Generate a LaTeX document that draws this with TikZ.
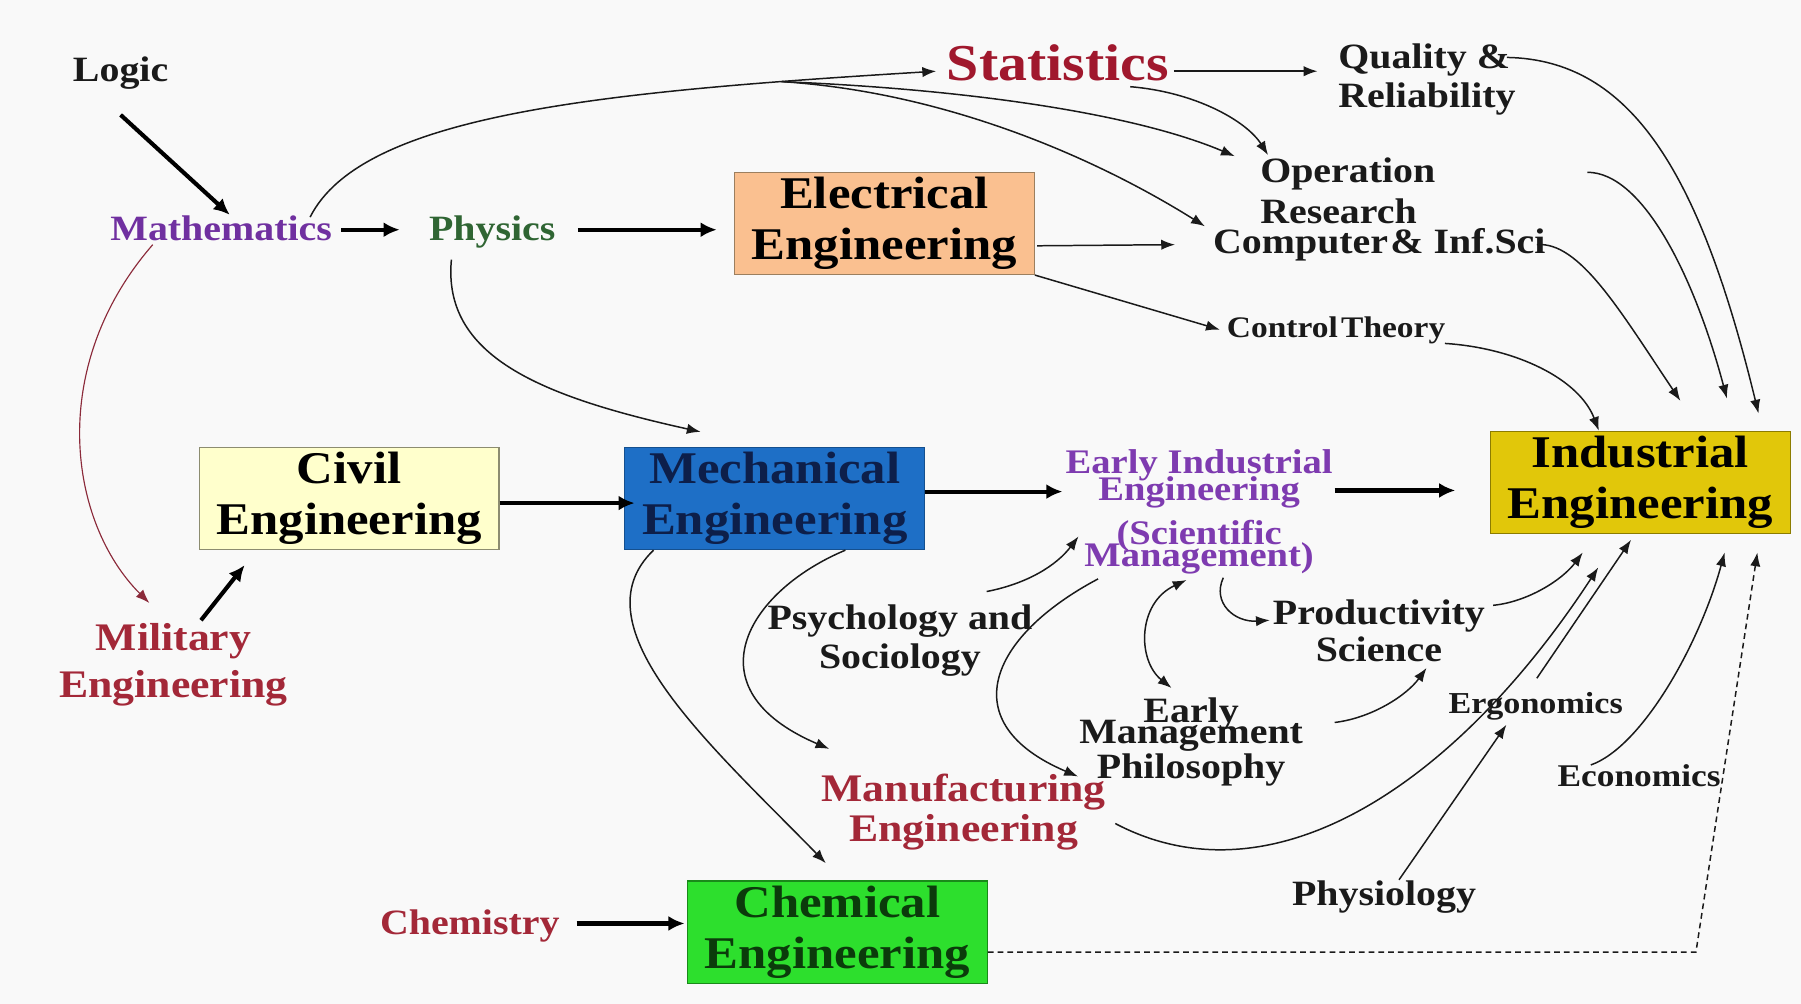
\documentclass[tikz,border=0pt]{standalone}
\usepackage{fontspec}
\setmainfont{Liberation Serif}[FakeStretch=1.12]
\usetikzlibrary{arrows.meta}

\definecolor{bgcol}{HTML}{F9F9F9}
\definecolor{ink}{HTML}{1A1A1A}
\definecolor{mathpurple}{HTML}{7030A0}
\definecolor{eiepurple}{HTML}{7E3BB0}
\definecolor{physgreen}{HTML}{2F6533}
\definecolor{statred}{HTML}{A0182D}
\definecolor{darkred}{HTML}{A32838}
\definecolor{milline}{HTML}{8B2A3A}
\definecolor{elecfill}{HTML}{FAC090}
\definecolor{elecdraw}{HTML}{9C7F5F}
\definecolor{civilfill}{HTML}{FFFFCC}
\definecolor{civildraw}{HTML}{8C8C70}
\definecolor{mechfill}{HTML}{1E6FC6}
\definecolor{mechdraw}{HTML}{15508F}
\definecolor{mechtext}{HTML}{0D1F4A}
\definecolor{iefill}{HTML}{E1C70A}
\definecolor{iedraw}{HTML}{8C7C00}
\definecolor{chemfill}{HTML}{2DDF2D}
\definecolor{chemdraw}{HTML}{1A8A1A}
\definecolor{chemtext}{HTML}{0B3B0B}

% bold label font: size, baseline skip (lines may overlap)
\newcommand{\labfont}[2]{\lineskiplimit=-100pt\bfseries\fontsize{#1}{#2}\selectfont}

% multi-line labels are placed by the baseline of their last line
\tikzset{
  lbl/.style={inner sep=0pt, anchor=base, align=center, text=ink, font=\labfont{31}{34}},
  box/.style={draw, line width=1pt, minimum width=261pt, minimum height=89pt,
              inner sep=0pt, align=center, font=\labfont{39.5}{44}},
  thinarrow/.style={draw=ink, line width=1.3pt, -{Latex[length=12pt,width=9pt]}},
  thickarrow/.style={draw=black, line width=3.6pt, -{Latex[length=14pt,width=13pt]}},
}

\begin{document}
\begin{tikzpicture}[x=1pt, y=-1pt]
\useasboundingbox (0,0) rectangle (1568,874);
\fill[bgcol] (0,0) rectangle (1568,874);

% ---------- boxes ----------
\node[box, fill=elecfill, draw=elecdraw] (elec) at (770,194.5) {Electrical\\Engineering};
\node[box, fill=civilfill, draw=civildraw] (civil) at (304,434) {Civil\\Engineering};
\node[box, fill=mechfill, draw=mechdraw, text=mechtext] (mech) at (674.5,434) {Mechanical\\Engineering};
\node[box, fill=iefill, draw=iedraw] (ie) at (1428,420) {Industrial\\Engineering};
\node[box, fill=chemfill, draw=chemdraw, text=chemtext] (chem) at (729,811.5) {Chemical\\Engineering};

% ---------- text labels ----------
\node[lbl] (logic) at (105,71) {Logic};
\node[lbl, text=mathpurple] (math) at (192.5,209) {Mathematics};
\node[lbl, text=physgreen] (phys) at (428.5,209) {Physics};
\node[lbl, text=statred, font=\labfont{45}{48}] (stat) at (921,70) {Statistics};
\node[lbl, anchor=base west, align=left] (qual) at (1165,93.5) {Quality \&\\Reliability};
\node[lbl, anchor=base west, align=left, font=\labfont{31}{35.5}] (opres) at (1097,194.5) {Operation\\Research};
\node[lbl, anchor=base west] (comp) at (1056,221) {Computer\kern2pt\& Inf.Sci};
\node[lbl, anchor=base west, font=\labfont{26}{28}] (ctrl) at (1068,294) {Control\kern3pt Theory};
\node[lbl, text=eiepurple, font=\labfont{30}{24}] (eie) at (1044,493)
  {Early Industrial\\Engineering\\[14pt](Scientific\\[-5pt]Management)};
\node[lbl] (psych) at (783.5,582) {Psychology and\\Sociology};
\node[lbl, font=\labfont{31}{32}] (prod) at (1200.5,576) {Productivity\\Science};
\node[lbl, font=\labfont{31}{18}] (emp) at (1037,678) {Early\\Management\\[13pt]Philosophy};
\node[lbl, text=darkred, font=\labfont{34}{41}] (mil) at (151,607) {Military\\Engineering};
\node[lbl, text=darkred, font=\labfont{34}{35}] (manu) at (839,733) {Manufacturing\\Engineering};
\node[lbl, text=darkred] (chemistry) at (409,814) {Chemistry};
\node[lbl, font=\labfont{26.5}{28}] (ergo) at (1337,621) {Ergonomics};
\node[lbl] (physio) at (1205,788) {Physiology};
\node[lbl, font=\labfont{27.5}{30}] (econ) at (1427,685) {Economics};

% ---------- heavy arrows ----------
\draw[thickarrow] ([yshift=-29pt]logic.base) -- ([xshift=7.5pt,yshift=22pt]math.base);
\draw[thickarrow] ([xshift=104.5pt,yshift=9pt]math.base) -- ([xshift=-80.5pt,yshift=9pt]phys.base);
\draw[thickarrow] ([xshift=74.5pt,yshift=9pt]phys.base) -- ([xshift=-15pt,yshift=-5.5pt]elec.west);
\draw[thickarrow] ([xshift=24pt,yshift=67pt]mil.base) -- ([xshift=-91pt,yshift=-13pt]civil.south);
\draw[thickarrow] ([yshift=-4pt]civil.east) -- ([xshift=9pt,yshift=-4pt]mech.west);
\draw[thickarrow] ([yshift=6pt]mech.east) -- ([xshift=-119pt,yshift=65pt]eie.base);
\draw[thickarrow] ([xshift=118pt,yshift=66pt]eie.base) -- ([xshift=-30pt,yshift=-7pt]ie.west);
\draw[thickarrow] ([xshift=93pt,yshift=10pt]chemistry.base) -- ([xshift=-2pt,yshift=7.5pt]chem.west);

% ---------- upper fan: mathematics, statistics, electrical ----------
\draw[thinarrow] ([xshift=77.5pt,yshift=20pt]math.base) .. controls (315,100) and (520,80) ..
  coordinate[pos=0.84] (split) ([xshift=-106pt,yshift=8pt]stat.base);
\draw[thinarrow] (split) .. controls (850,78) and (990,100) .. ([xshift=-22pt,yshift=58.5pt]opres.base west);
\draw[thinarrow] (split) .. controls (820,80) and (950,135) .. ([xshift=-7pt,yshift=24pt]comp.base west);
\draw[thinarrow] ([xshift=63pt,yshift=-5.5pt]stat.base) .. controls (1040,80) and (1085,105) ..
  ([xshift=7pt,yshift=59.5pt]opres.base west);
\draw[thinarrow] ([xshift=101pt,yshift=8pt]stat.base) -- ([xshift=-18pt,yshift=31.5pt]qual.base west);
\draw[thinarrow] ([xshift=2pt,yshift=-19.5pt]elec.east) -- ([xshift=-33pt,yshift=8pt]comp.base west);
\draw[thinarrow] (elec.south east) -- ([xshift=-6pt,yshift=7pt]ctrl.base west);

% ---------- into Industrial Engineering from above ----------
\draw[thinarrow] ([xshift=147pt,yshift=43.5pt]qual.base west) .. controls (1420,52) and (1480,150) ..
  ([xshift=103pt,yshift=15pt]ie.north);
\draw[thinarrow] ([xshift=285pt,yshift=44.5pt]opres.base west) .. controls (1430,150) and (1475,240) ..
  ([xshift=75.5pt,yshift=28pt]ie.north);
\draw[thinarrow] ([xshift=282pt,yshift=8pt]comp.base west) .. controls (1375,210) and (1410,270) ..
  ([xshift=35pt,yshift=26pt]ie.north);
\draw[thinarrow] ([xshift=190pt,yshift=-5pt]ctrl.base west) .. controls (1320,303) and (1375,330) ..
  ([xshift=-36pt]ie.north);

% ---------- left side ----------
\draw[thinarrow, draw=milline, line width=1pt] ([xshift=-59.5pt,yshift=-4pt]math.base)
  .. controls (40,320) and (60,455) .. ([xshift=-21pt,yshift=82pt]mil.base);
\draw[thinarrow] ([xshift=-35.5pt,yshift=-17pt]phys.base) .. controls (385,310) and (470,345) ..
  ([xshift=-64.5pt,yshift=13pt]mech.north);
\draw[thinarrow] ([xshift=-105.5pt]mech.south) .. controls (500,545) and (620,650) ..
  ([xshift=-10pt,yshift=15pt]chem.north);
\draw[thinarrow] ([xshift=61.5pt]mech.south) .. controls (650,515) and (600,600) ..
  ([xshift=-117pt,yshift=81pt]manu.base);

% ---------- around scientific management ----------
\draw[thinarrow] ([xshift=75.5pt,yshift=67pt]psych.base) .. controls (895,508) and (920,492) ..
  ([xshift=-105pt,yshift=26pt]eie.base);
\draw[thinarrow] ([xshift=-88pt,yshift=-11pt]eie.base) .. controls (860,555) and (830,630) ..
  ([xshift=-98.5pt,yshift=2pt]emp.base);
\draw[thinarrow, {Latex[length=12pt,width=9pt]}-{Latex[length=12pt,width=9pt]}]
  ([xshift=-11pt,yshift=-12pt]eie.base) .. controls (990,525) and (990,575) ..
  ([xshift=-17pt,yshift=79pt]emp.base);
\draw[thinarrow] ([xshift=21pt,yshift=-10pt]eie.base) .. controls (1055,525) and (1075,542) ..
  ([xshift=-95pt,yshift=36pt]prod.base);
\draw[thinarrow] ([xshift=125pt,yshift=49pt]emp.base) .. controls (1195,625) and (1225,605) ..
  ([xshift=41.5pt,yshift=-5.5pt]prod.base);

% ---------- into Industrial Engineering from below ----------
\draw[thinarrow] ([xshift=99.5pt,yshift=49pt]prod.base) .. controls (1330,524) and (1360,505) ..
  ([xshift=-50pt,yshift=-16pt]ie.south);
\draw[thinarrow] ([xshift=132pt,yshift=16pt]manu.base) .. controls (1110,790) and (1270,680) ..
  ([xshift=-36.5pt,yshift=-29pt]ie.south);
\draw[thinarrow] ([xshift=1pt,yshift=30.5pt]ergo.base) -- ([xshift=-8pt,yshift=-5pt]ie.south);
\draw[thinarrow] ([xshift=13pt,yshift=22pt]physio.base) -- ([xshift=-25.5pt,yshift=-10pt]ergo.base);
\draw[thinarrow] ([xshift=-42pt,yshift=19pt]econ.base) .. controls (1430,650) and (1480,560) ..
  ([xshift=73.5pt,yshift=-16pt]ie.south);
\draw[thinarrow, dash pattern=on 5pt off 3.5pt] ([yshift=-17.5pt]chem.east) -- ++(616.5,0)
  -- ([xshift=102pt,yshift=-16pt]ie.south);
\end{tikzpicture}
\end{document}
